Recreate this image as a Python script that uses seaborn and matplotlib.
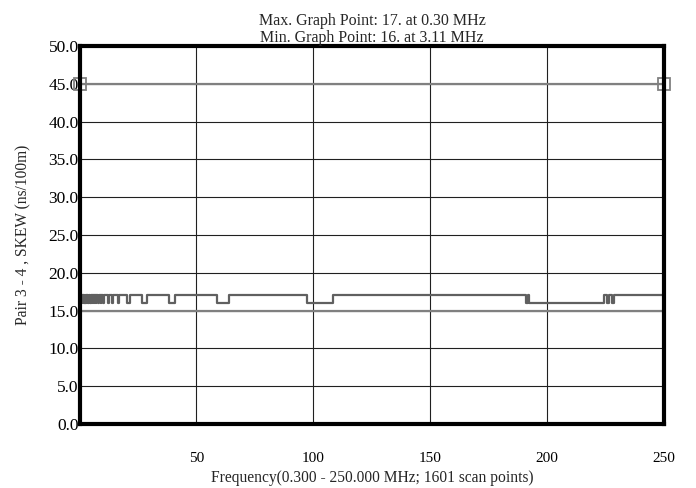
import numpy as np
import pandas as pd
import matplotlib
matplotlib.use("Agg")
import matplotlib.pyplot as plt
import seaborn as sns

# step trace: frequency (MHz) where the value changes, and the value from there on
step_freq = [0.3, 1.4, 1.7, 2.0, 2.3, 2.6, 2.9, 3.1, 3.4, 3.8, 4.1, 4.5, 4.8, 5.3, 5.6,
             6.1, 6.4, 7.0, 7.3, 8.0, 8.3, 9.1, 9.4, 10.2, 10.5, 12.3, 12.6, 14.0, 14.3,
             16.7, 17.0, 20.4, 21.8, 26.8, 28.9, 38.2, 41.0, 58.8, 64.1, 97.2, 108.3,
             190.9, 191.9, 192.4, 224.4, 225.6, 226.6, 227.6, 228.6, 229.3, 250.0]
step_val = [17, 16, 17, 16, 17, 16, 17, 16, 17, 16, 17, 16, 17, 16, 17,
            16, 17, 16, 17, 16, 17, 16, 17, 16, 17, 16, 17, 16, 17,
            16, 17, 16, 17, 16, 17, 16, 17, 16, 17, 16, 17,
            16, 17, 16, 17, 16, 17, 16, 17, 17, 17]

limit_freq = [0.3, 250.0]
upper_limit = [45.0, 45.0]
lower_limit = [15.0, 15.0]

x_ticks = [50, 100, 150, 200, 250]
y_ticks = [0, 5, 10, 15, 20, 25, 30, 35, 40, 45, 50]

sns.set_style("white")
plt.rcParams['font.family'] = ['Liberation Serif', 'DejaVu Serif']

trace = pd.DataFrame({"freq": step_freq, "skew": step_val})
limits = pd.DataFrame({"freq": limit_freq, "upper": upper_limit, "lower": lower_limit})

fig = plt.figure(figsize=(6.96, 4.88), dpi=100)
ax = fig.add_axes([0.115, 0.131, 0.839, 0.775])

ax.grid(True, color="#202020", linewidth=0.8)
ax.set_axisbelow(True)

sns.lineplot(data=limits, x="freq", y="lower", ax=ax, color="#808080", linewidth=1.6,
             estimator=None)
sns.lineplot(data=limits, x="freq", y="upper", ax=ax, color="#808080", linewidth=1.6,
             estimator=None, marker="s", markersize=9, markerfacecolor="none",
             markeredgecolor="#808080", markeredgewidth=1.3, clip_on=False)
sns.lineplot(data=trace, x="freq", y="skew", ax=ax, color="#606060", linewidth=1.6,
             estimator=None, drawstyle="steps-post")

ax.set_xlim(0.3, 250)
ax.set_ylim(0, 50)
ax.set_xticks(x_ticks)
ax.set_xticklabels([str(v) for v in x_ticks])
ax.set_yticks(y_ticks)
ax.set_yticklabels([f"{v:.1f}" for v in y_ticks])
ax.tick_params(axis="both", length=0, colors="black")
ax.tick_params(axis="x", pad=20, labelsize=11)
ax.tick_params(axis="y", pad=1, labelsize=12.5)

for side in ["left", "right", "top", "bottom"]:
    ax.spines[side].set_visible(True)
    ax.spines[side].set_color("black")
    ax.spines[side].set_linewidth(3)

ax.set_xlabel("Frequency(0.300 - 250.000 MHz; 1601 scan points)", fontsize=11.2, labelpad=4)
ax.set_ylabel("Pair 3 - 4 , SKEW (ns/100m)", fontsize=11.2, labelpad=12)
ax.set_title("Max. Graph Point: 17. at 0.30 MHz\nMin. Graph Point: 16. at 3.11 MHz",
             fontsize=11.5, linespacing=1.05, pad=3)

fig.savefig("out.png", dpi=100)
